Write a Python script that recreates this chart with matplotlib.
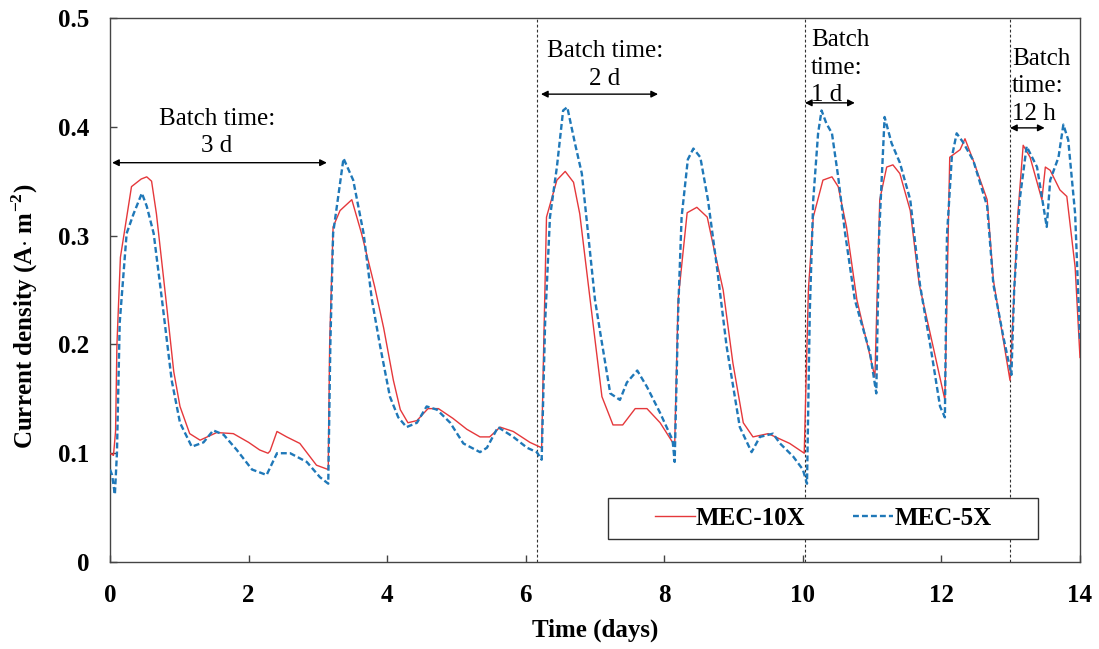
import matplotlib
matplotlib.use("Agg")
import matplotlib.pyplot as plt
from matplotlib.patches import Rectangle

plt.rcParams['font.family'] = ['Liberation Serif', 'DejaVu Serif']
plt.rcParams['mathtext.fontset'] = 'custom'
plt.rcParams['mathtext.rm'] = 'Liberation Serif'
plt.rcParams['mathtext.bf'] = 'Liberation Serif:bold'

# MEC-10X (red, solid)
day_10x = [0.00, 0.05, 0.08, 0.10, 0.15, 0.31, 0.45, 0.53, 0.60, 0.67, 0.82, 0.92,
           1.01, 1.15, 1.30, 1.54, 1.78, 2.00, 2.16, 2.28, 2.31, 2.41, 2.55, 2.74,
           2.98, 3.15, 3.17, 3.22, 3.32, 3.49, 3.63, 3.82, 3.95, 4.09, 4.19, 4.30,
           4.43, 4.59, 4.74, 4.95, 5.15, 5.34, 5.48, 5.63, 5.82, 6.06, 6.23, 6.26,
           6.30, 6.45, 6.57, 6.69, 6.78, 6.93, 7.10, 7.26, 7.40, 7.58, 7.75, 7.94,
           8.15, 8.20, 8.33, 8.47, 8.62, 8.71, 8.85, 8.99, 9.14, 9.28, 9.50, 9.81,
           10.02, 10.08, 10.15, 10.29, 10.42, 10.51, 10.63, 10.78, 11.04, 11.11,
           11.21, 11.30, 11.40, 11.55, 11.68, 11.88, 12.05, 12.12, 12.27, 12.34,
           12.46, 12.66, 12.75, 12.99, 13.10, 13.18, 13.28, 13.45, 13.50, 13.57,
           13.71, 13.81, 13.93, 14.00]
mec_10x = [0.100, 0.098, 0.120, 0.200, 0.280, 0.345, 0.352, 0.354, 0.350, 0.320, 0.234, 0.175,
           0.143, 0.118, 0.112, 0.119, 0.118, 0.110, 0.103, 0.100, 0.102, 0.120, 0.115, 0.109,
           0.089, 0.085, 0.200, 0.308, 0.323, 0.333, 0.302, 0.253, 0.215, 0.167, 0.140, 0.128,
           0.130, 0.141, 0.141, 0.132, 0.122, 0.115, 0.115, 0.124, 0.120, 0.110, 0.105, 0.200,
           0.317, 0.351, 0.359, 0.349, 0.320, 0.241, 0.152, 0.126, 0.126, 0.141, 0.141, 0.128,
           0.107, 0.241, 0.321, 0.326, 0.317, 0.290, 0.250, 0.183, 0.128, 0.115, 0.118, 0.109,
           0.100, 0.250, 0.317, 0.351, 0.354, 0.345, 0.308, 0.241, 0.170, 0.333,
           0.363, 0.365, 0.357, 0.323, 0.255, 0.198, 0.149, 0.372, 0.379, 0.389,
           0.369, 0.333, 0.259, 0.167, 0.317, 0.383, 0.372, 0.333, 0.363, 0.360,
           0.342, 0.336, 0.271, 0.188]

# MEC-5X (blue, dashed)
day_5x = [0.00, 0.03, 0.07, 0.10, 0.14, 0.24, 0.34, 0.46, 0.53, 0.63, 0.75, 0.89,
          1.01, 1.18, 1.35, 1.49, 1.64, 1.83, 2.05, 2.26, 2.41, 2.60, 2.84, 3.03,
          3.15, 3.18, 3.22, 3.37, 3.51, 3.66, 3.78, 3.90, 4.04, 4.16, 4.28, 4.43,
          4.57, 4.72, 4.91, 5.10, 5.34, 5.44, 5.60, 5.82, 6.02, 6.16, 6.23, 6.28,
          6.35, 6.45, 6.54, 6.60, 6.71, 6.81, 6.90, 7.00, 7.07, 7.22, 7.36, 7.46,
          7.61, 7.75, 7.94, 8.12, 8.15, 8.20, 8.25, 8.34, 8.42, 8.52, 8.63, 8.76,
          8.90, 9.09, 9.26, 9.38, 9.57, 9.67, 9.86, 10.00, 10.06, 10.10, 10.15,
          10.22, 10.27, 10.34, 10.42, 10.51, 10.61, 10.75, 10.97, 11.06, 11.10,
          11.18, 11.28, 11.40, 11.55, 11.69, 11.85, 11.98, 12.05, 12.08, 12.15,
          12.22, 12.31, 12.46, 12.66, 12.75, 12.90, 13.01, 13.05, 13.13, 13.23,
          13.38, 13.52, 13.57, 13.69, 13.76, 13.83, 13.93, 14.00]
mec_5x = [0.085, 0.080, 0.062, 0.100, 0.220, 0.302, 0.320, 0.339, 0.327, 0.302, 0.241, 0.167,
          0.128, 0.106, 0.110, 0.121, 0.117, 0.103, 0.085, 0.080, 0.100, 0.100, 0.092, 0.078,
          0.072, 0.200, 0.302, 0.371, 0.351, 0.302, 0.241, 0.198, 0.152, 0.133, 0.124, 0.128,
          0.143, 0.140, 0.128, 0.109, 0.101, 0.105, 0.124, 0.115, 0.105, 0.101, 0.094, 0.220,
          0.317, 0.363, 0.415, 0.418, 0.385, 0.357, 0.302, 0.241, 0.213, 0.155, 0.149, 0.165,
          0.176, 0.161, 0.137, 0.112, 0.092, 0.230, 0.317, 0.370, 0.380, 0.372, 0.333, 0.271,
          0.198, 0.124, 0.101, 0.115, 0.118, 0.109, 0.097, 0.085, 0.072, 0.230, 0.333,
          0.394, 0.415, 0.403, 0.394, 0.354, 0.302, 0.241, 0.192, 0.155, 0.300,
          0.409, 0.385, 0.367, 0.333, 0.255, 0.195, 0.143, 0.133, 0.300, 0.372,
          0.394, 0.386, 0.369, 0.327, 0.255, 0.205, 0.172, 0.250, 0.333, 0.382,
          0.363, 0.308, 0.351, 0.372, 0.402, 0.388, 0.320, 0.204]

batch_starts = [6.16, 10.03, 12.99]
batch_labels = ['Batch time:\n3 d', 'Batch time:\n2 d', 'Batch\ntime:\n1 d', 'Batch\ntime:\n12 h']
arrow_spans = [(0.03, 3.13, 0.367), (6.22, 7.91, 0.430), (10.03, 10.75, 0.422), (12.99, 13.49, 0.399)]

fig = plt.figure(figsize=(10.99, 6.49), dpi=100)
ax = fig.add_axes([0.1001, 0.1340, 0.8826, 0.8383])

ax.plot(day_10x, mec_10x, color='#e5383b', lw=1.0, label='MEC-10X', zorder=3)
ax.plot(day_5x, mec_5x, color='#1f78b8', lw=1.7, ls=(0, (2.5, 1.3)), label='MEC-5X', zorder=3)

for xv in batch_starts:
    ax.axvline(xv, color='#333333', lw=0.8, ls=(0, (2.5, 2)), zorder=2)

for (x0, x1, yv) in arrow_spans:
    ax.annotate('', xy=(x0, yv), xytext=(x1, yv),
                arrowprops=dict(arrowstyle='<|-|>', color='black', lw=1.0,
                                mutation_scale=10, shrinkA=0, shrinkB=0))

ax.text(1.54, 0.372, batch_labels[0], ha='center', va='bottom', fontsize=18, linespacing=1.32)
ax.text(7.14, 0.434, batch_labels[1], ha='center', va='bottom', fontsize=18, linespacing=1.32)
ax.text(10.12, 0.419, batch_labels[2], ha='left', va='bottom', fontsize=18, linespacing=1.32)
ax.text(13.02, 0.402, batch_labels[3], ha='left', va='bottom', fontsize=18, linespacing=1.32)

ax.set_xlim(0, 14)
ax.set_ylim(0, 0.5)
ax.set_xticks([0, 2, 4, 6, 8, 10, 12, 14])
ax.set_yticks([0, 0.1, 0.2, 0.3, 0.4, 0.5])
ax.set_xticklabels(['0', '2', '4', '6', '8', '10', '12', '14'])
ax.set_yticklabels(['0', '0.1', '0.2', '0.3', '0.4', '0.5'])
ax.tick_params(direction='in', length=5, width=1, labelsize=18, color='#444444')
ax.tick_params(axis='x', pad=16)
ax.tick_params(axis='y', pad=15)
for lbl in ax.get_xticklabels() + ax.get_yticklabels():
    lbl.set_fontweight('bold')
for sp in ax.spines.values():
    sp.set_color('#444444')
    sp.set_linewidth(1.0)

ax.set_xlabel('Time (days)', fontsize=18, fontweight='bold', labelpad=8)
ax.set_ylabel(r'Current density (A$\cdot$ m$^{\mathbf{-2}}$)', fontsize=18, fontweight='bold')
ax.yaxis.set_label_coords(-0.072, 0.452)

# legend box drawn separately so the inner padding can be wide
box = Rectangle((0.513, 0.042), 0.444, 0.076, transform=ax.transAxes, facecolor='white',
                edgecolor='#333333', lw=1.0, zorder=4)
ax.add_patch(box)
leg = ax.legend(loc='center', bbox_to_anchor=(0.735, 0.080), ncol=2, frameon=False,
                handlelength=1.6, handletextpad=0.05, columnspacing=1.9, borderaxespad=0,
                borderpad=0, prop={'weight': 'bold', 'size': 18})
leg.set_zorder(5)

fig.savefig('out.png', dpi=100)
